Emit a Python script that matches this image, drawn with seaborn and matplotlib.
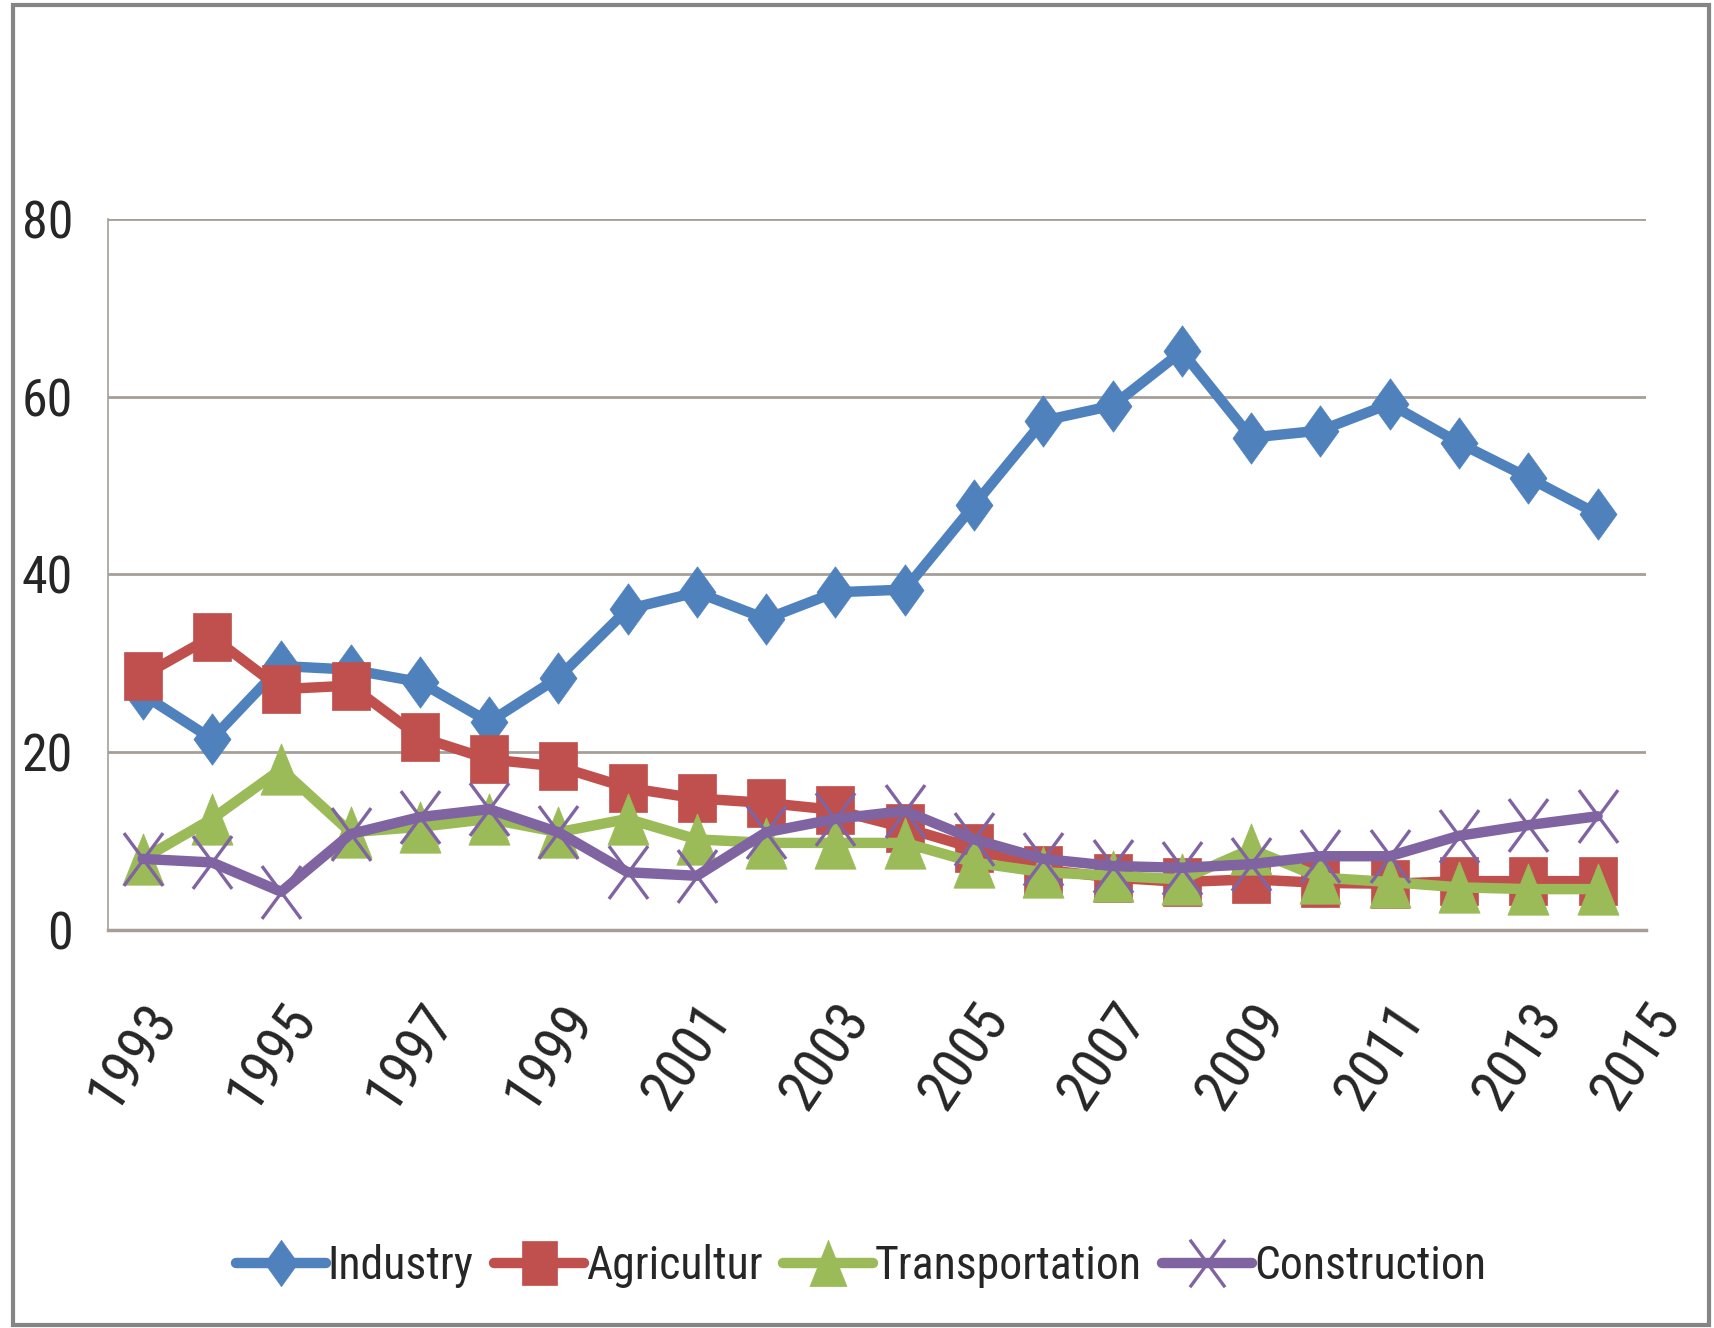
import numpy as np
import pandas as pd
import matplotlib
matplotlib.use("Agg")
import matplotlib.pyplot as plt
import matplotlib.font_manager as fm
from matplotlib.font_manager import FontProperties
from matplotlib.path import Path
from matplotlib.patches import Rectangle
import seaborn as sns

# data
years = list(range(1993, 2015))
industry = [26.5, 21.5, 29.7, 29.3, 27.9, 23.4, 28.4, 36.1, 38.0, 35.0, 38.0, 38.3,
            47.8, 57.3, 59.0, 65.1, 55.4, 56.2, 59.2, 54.8, 50.9, 46.8]
agriculture = [28.6, 33.0, 27.1, 27.5, 21.7, 19.2, 18.4, 16.0, 14.8, 14.3, 13.5, 11.5,
               9.2, 6.8, 5.9, 5.4, 5.7, 5.3, 5.2, 5.5, 5.5, 5.5]
transportation = [8.0, 12.5, 18.1, 11.0, 11.6, 12.5, 11.0, 12.5, 10.2, 9.8, 9.8, 9.8,
                  7.6, 6.5, 6.1, 5.7, 9.1, 5.9, 5.4, 4.8, 4.6, 4.6]
construction = [8.0, 7.6, 4.3, 10.8, 12.7, 13.6, 11.0, 6.5, 6.1, 11.0, 12.5, 13.4,
                10.2, 8.0, 7.2, 7.0, 7.4, 8.3, 8.3, 10.6, 11.8, 12.8]
series_names = ["Industry", "Agricultur", "Transportation", "Construction"]
colors = ["#4F81BD", "#C0504D", "#9BBB59", "#8064A2"]
tick_years = ["1993", "1995", "1997", "1999", "2001", "2003", "2005",
              "2007", "2009", "2011", "2013", "2015"]
y_ticks = [0, 20, 40, 60, 80]

sns.set_style("white")

# the original uses a narrow (Calibri-like) face; take a condensed one if installed
names = {f.name for f in fm.fontManager.ttflist}
font = "Liberation Sans"
stretch = "normal"
for cand in ["Liberation Sans Narrow", "Arial Narrow", "Roboto Condensed",
             "Open Sans Condensed", "Noto Sans Condensed", "DejaVu Sans Condensed"]:
    if cand in names:
        font = cand
        break
else:
    for f in fm.fontManager.ttflist:
        if f.name in ("Noto Sans", "Open Sans", "Roboto") and f.stretch in (
                "condensed", "semi-condensed") and f.style == "normal":
            font, stretch = f.name, f.stretch
            break
plt.rcParams["font.family"] = [font, "DejaVu Sans"]
plt.rcParams["font.stretch"] = stretch

fig = plt.figure(figsize=(17.15, 13.28), dpi=100)
rend = fig.canvas.get_renderer()


def text_w(s, size=30):
    fp = FontProperties(family=[font, "DejaVu Sans"], size=size, stretch=stretch)
    return rend.get_text_width_height_descent(s, fp, ismath=False)[0]


# font sizes fitted to the widths measured on the reference (pixels)
leg_size = 1.02 * 30 * 806 / sum(text_w(n) for n in series_names)
ytick_size = 1.03 * 30 * 50 / text_w("80")
xtick_size = 1.1 * 30 * 104 / text_w("1993")

# Excel-like marker shapes (a bit taller than wide)
diamond = [(0, 1), (0.72, 0), (0, -1), (-0.72, 0), (0, 1)]
square = [(-0.8, -1), (0.8, -1), (0.8, 1), (-0.8, 1), (-0.8, -1)]
triangle = [(0, 1), (0.8, -1), (-0.8, -1), (0, 1)]
xmark = Path([(-0.74, -1), (0.74, 1), (-0.74, 1), (0.74, -1)],
             [Path.MOVETO, Path.LINETO, Path.MOVETO, Path.LINETO])
markers = [diamond, square, triangle, xmark]
msizes = [37, 35, 37, 38]

ax = fig.add_axes([0.063, 0.2997, 0.8968, 0.5354])

idx = np.arange(len(years))
all_vals = [industry, agriculture, transportation, construction]
for name, vals, col, mk, ms in zip(series_names, all_vals, colors, markers, msizes):
    is_x = mk is xmark
    sns.lineplot(x=idx, y=vals, ax=ax, color=col, lw=7.5, marker=mk,
                 markersize=ms, markeredgecolor=col,
                 markerfacecolor="none" if is_x else col,
                 markeredgewidth=2.4 if is_x else 0.5,
                 label=name, clip_on=False)

ax.set_xlim(-0.5, len(years) - 0.5)
ax.set_ylim(0, 80)
ax.set_yticks(y_ticks)
ax.set_yticklabels([str(v) for v in y_ticks], fontsize=ytick_size)
ax.yaxis.grid(True, color="#A59F98", lw=2)
ax.set_axisbelow(True)
ax.tick_params(axis="y", direction="out", length=10, width=2, color="#A59F98", pad=15)

# category boundaries as tick marks, labels every other year
ax.set_xticks(np.arange(-0.5, len(years), 1.0))
ax.set_xticklabels([])
ax.tick_params(axis="x", which="major", direction="out", length=14, width=1.2,
               color="#A59F98")
lab_pos = list(np.arange(0, len(years), 2)) + [21.7]
ax.set_xticks(lab_pos, minor=True)
ax.set_xticklabels(tick_years, minor=True, fontsize=xtick_size, rotation=56,
                   ha="right", va="top", rotation_mode="anchor")
ax.tick_params(axis="x", which="minor", length=0, pad=46)

for s in ["top", "right"]:
    ax.spines[s].set_visible(False)
ax.spines["left"].set_color("#A59F98")
ax.spines["left"].set_linewidth(1.2)
ax.spines["bottom"].set_color("#A59F98")
ax.spines["bottom"].set_linewidth(2.5)
ax.set_xlabel("")
ax.set_ylabel("")

leg_em = leg_size * 100 / 72
ax.legend(loc="center", bbox_to_anchor=(0.502, 0.047), bbox_transform=fig.transFigure,
          ncol=4, frameon=False, fontsize=leg_size, handlelength=90 / leg_em,
          handletextpad=0.05, columnspacing=20 / leg_em, markerscale=0.9,
          borderaxespad=0, borderpad=0)

# chart frame
fig.patches.append(Rectangle((13 / 1715, 3 / 1328), 1696 / 1715, 1320 / 1328,
                             transform=fig.transFigure, fill=False,
                             edgecolor="#858585", lw=3))

fig.savefig("out.png", dpi=100)
